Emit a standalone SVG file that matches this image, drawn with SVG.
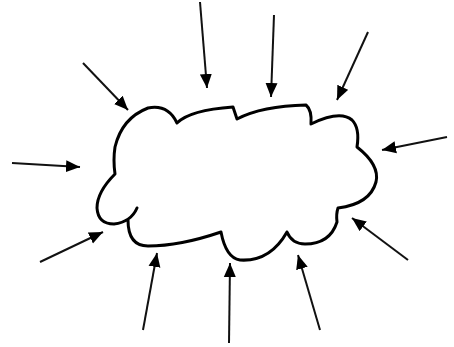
<svg xmlns="http://www.w3.org/2000/svg" width="454" height="347" viewBox="0 0 454 347">
<style>
.cloud{fill:none;stroke:#000;stroke-width:3;stroke-linejoin:round;stroke-linecap:round}
.arr{fill:none;stroke:#111;stroke-width:2;marker-end:url(#ah)}
</style>
<defs>
<marker id="ah" markerWidth="15" markerHeight="13" refX="14" refY="6.5" orient="auto" markerUnits="userSpaceOnUse">
<path d="M0,0.5 L14,6.5 L0,12.5 z" fill="#000"/>
</marker>
</defs>
<rect width="454" height="347" fill="#fff"/>
<g id="cloud">
<path class="cloud" d="M 137,208 Q 131,222 114,224 Q 98,224 97,208 Q 97,192 115,174 Q 113,160 115,147 Q 122,118 148,108 Q 168,104 177,123 Q 190,110 233,107 L 237,119 Q 262,106 306,105 Q 312,110 311,124 Q 340,110 352,120 Q 360,128 357,147 Q 380,165 376,182 Q 370,204 338,208 Q 336,214 337,222 Q 330,244 305,244 Q 292,244 287,232 Q 270,262 240,260 Q 226,258 221,232 Q 180,246 148,246 Q 128,246 128,220"/>
</g>
<g id="connectors">
<path class="arr" d="M83,63 L128,110"/>
<path class="arr" d="M200,2 L207,88"/>
<path class="arr" d="M274,15 L271,97"/>
<path class="arr" d="M368,32 L337,100"/>
<path class="arr" d="M447,137 L382,150"/>
<path class="arr" d="M408,260 L352,218"/>
<path class="arr" d="M320,330 L298,255"/>
<path class="arr" d="M229,343 L230,263"/>
<path class="arr" d="M143,330 L157,253"/>
<path class="arr" d="M40,262 L103,232"/>
<path class="arr" d="M12,163 L80,167"/>
</g>
</svg>
